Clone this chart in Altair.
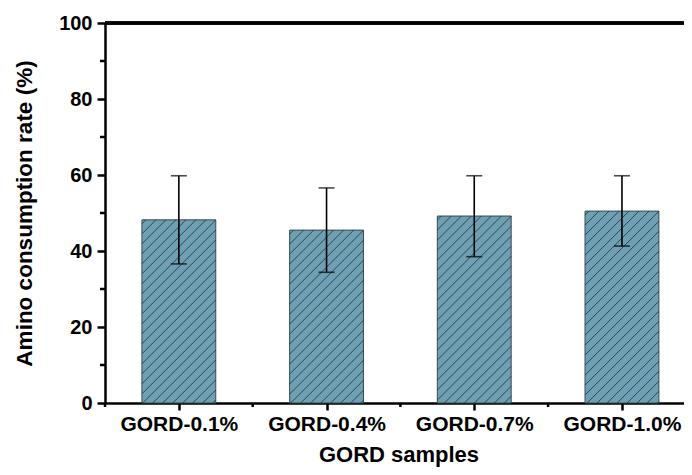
import altair as alt
import numpy as np
import pandas as pd

# ---- data ----
samples = ["GORD-0.1%", "GORD-0.4%", "GORD-0.7%", "GORD-1.0%"]
rates = [48.2, 45.5, 49.2, 50.5]
err_low = [36.6, 34.4, 38.5, 41.3]
err_high = [59.8, 56.6, 59.8, 59.8]
y_major = [0, 20, 40, 60, 80, 100]
y_minor = [10, 30, 50, 70, 90]

# ---- layout ----
STEP = 147.7          # pixels per category
W, H = 579, 380       # visible plot area (right part of last band is cut off, as in the reference)
XMIN = -0.5
XMAX = XMIN + W / STEP
px_x = STEP
px_y = H / 100.0
HALF = 0.25  # bar half width in category units
FONT = "Liberation Sans"

pos = list(range(len(samples)))
bars = pd.DataFrame({
    "pos": pos, "x0": [p - HALF for p in pos], "x1": [p + HALF for p in pos],
    "sample": samples, "rate": rates, "lo": err_low, "hi": err_high,
})

# hatch segments ("/" direction at 45 degrees in pixel space), clipped to each bar
seg = []
spacing = 10.0
for p, r in zip(pos, rates):
    w = 2 * HALF * px_x
    h = r * px_y
    for c in np.arange(-h + 4, w, spacing):
        u0, u1 = max(0.0, c), min(w, h + c)
        if u1 <= u0:
            continue
        seg.append({
            "xa": p - HALF + u0 / px_x, "xb": p - HALF + u1 / px_x,
            "ya": (u0 - c) / px_y, "yb": (u1 - c) / px_y,
        })
hatch = pd.DataFrame(seg)

xscale = alt.Scale(domain=[XMIN, XMAX], nice=False, zero=False)
yscale = alt.Scale(domain=[0, 100], nice=False)

label_expr = "datum.value == 0 ? 'GORD-0.1%' : datum.value == 1 ? 'GORD-0.4%' : datum.value == 2 ? 'GORD-0.7%' : 'GORD-1.0%'"

bar_layer = alt.Chart(bars).mark_rect(
    fill="#6f9fb3", stroke="#3a4a50", strokeWidth=1
).encode(
    x=alt.X("x0:Q", scale=xscale, axis=alt.Axis(
        values=pos, labelExpr=label_expr, title="GORD samples",
        tickSize=7, tickWidth=2.5, tickColor="black",
        domainWidth=2.5, domainColor="black", grid=False,
        labelFont=FONT, labelFontSize=21, labelFontWeight="bold", labelColor="black",
        labelPadding=3, labelOverlap=False, labelFlush=False,
        titleFont=FONT, titleFontSize=22, titleFontWeight="bold", titleColor="black",
        titlePadding=10, titleX=W / 2 + 4,
    )),
    x2="x1:Q",
    y=alt.Y("rate:Q", scale=yscale, axis=alt.Axis(
        values=y_major, title="Amino consumption rate (%)",
        tickSize=8, tickWidth=2.5, tickColor="black",
        domainWidth=2.5, domainColor="black", grid=False,
        labelFont=FONT, labelFontSize=20, labelFontWeight="bold", labelColor="black",
        labelPadding=5,
        titleFont=FONT, titleFontSize=22.5, titleFontWeight="bold", titleColor="black",
        titlePadding=22,
    )),
    y2=alt.datum(0),
)

hatch_layer = alt.Chart(hatch).mark_rule(color="#1f3640", strokeWidth=0.85).encode(
    x=alt.X("xa:Q", scale=xscale), x2="xb:Q",
    y=alt.Y("ya:Q", scale=yscale), y2="yb:Q",
)

err_rule = alt.Chart(bars).mark_rule(color="black", strokeWidth=1.6).encode(
    x=alt.X("pos:Q", scale=xscale),
    y=alt.Y("lo:Q", scale=yscale), y2="hi:Q",
)
cap_hi = alt.Chart(bars).mark_tick(color="black", orient="horizontal", size=16, thickness=1.6).encode(
    x=alt.X("pos:Q", scale=xscale), y=alt.Y("hi:Q", scale=yscale),
)
cap_lo = alt.Chart(bars).mark_tick(color="black", orient="horizontal", size=16, thickness=1.6).encode(
    x=alt.X("pos:Q", scale=xscale), y=alt.Y("lo:Q", scale=yscale),
)

# minor ticks
xminor = pd.DataFrame({"m": [p - 0.5 for p in pos]})
yminor = pd.DataFrame({"m": y_minor})
xminor_layer = alt.Chart(xminor).mark_rule(color="black", strokeWidth=2.5).encode(
    x=alt.X("m:Q", scale=xscale), y=alt.value(H), y2=alt.value(H + 4),
)
yminor_layer = alt.Chart(yminor).mark_rule(color="black", strokeWidth=2.5).encode(
    y=alt.Y("m:Q", scale=yscale), x=alt.value(0), x2=alt.value(-5),
)
# top frame line (right frame edge lies outside the picture in the reference)
top_line = alt.Chart(bars).mark_rule(color="black", strokeWidth=3).encode(
    x=alt.value(0), x2=alt.value(W), y=alt.value(0),
)

chart = alt.layer(
    bar_layer, hatch_layer, err_rule, cap_hi, cap_lo, xminor_layer, yminor_layer, top_line
).properties(
    width=W, height=H,
    autosize=alt.AutoSizeParams(type="none"),
    padding={"left": 97, "top": 15, "right": 0, "bottom": 64},
).configure_view(
    strokeWidth=0
).configure(background="white")

chart.save("out.html", embed_options={"renderer": "svg", "actions": False})
